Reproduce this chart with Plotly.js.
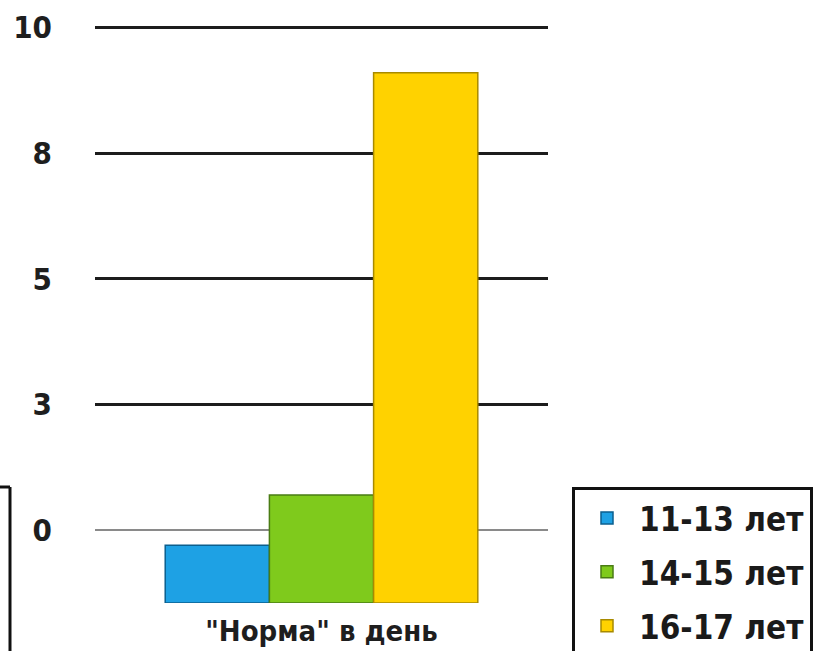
<!DOCTYPE html>
<html>
<head>
<meta charset="utf-8">
<script src="https://cdn.plot.ly/plotly-3.0.1.min.js"></script>
<style>html,body{margin:0;padding:0;background:#fff;}#chart{width:819px;height:651px;}</style>
</head>
<body>
<div id="chart"></div>
<script>
const categories = ['"Норма" в день'];
const seriesNames = ['11-13 лет', '14-15 лет', '16-17 лет'];
const values11_13 = [-0.3];
const values14_15 = [0.7];
const values16_17 = [9.1];
const floorValue = -1.45;
const tickValues = [0, 2.5, 5, 7.5, 10];
const tickLabels = ['0', '3', '5', '8', '10'];

const FONT = '"DejaVu Sans Condensed", "Liberation Sans Narrow", sans-serif';
const fills = ['#1ea1e4', '#7fca1c', '#ffd200'];
const edges = ['#0b5f8e', '#4a7c14', '#a88a00'];
const seriesValues = [values11_13, values14_15, values16_17];

const traces = seriesValues.map((vals, i) => ({
  type: 'bar',
  name: seriesNames[i],
  legendgroup: 'g' + i,
  x: categories,
  y: vals.map(v => v - floorValue),
  base: vals.map(() => floorValue),
  marker: { color: fills[i], line: { color: edges[i], width: 1.5 } },
  hoverinfo: 'skip'
}));

const W = 819, H = 651;
const L = 95, R = 271, T = 25, B = 48;
const plotW = W - L - R, plotH = H - T - B;
const pxToPaperX = px => (px - L) / plotW;
const pxToPaperY = py => (H - B - py) / plotH;

const layout = {
  width: W, height: H,
  margin: { l: L, r: R, t: T, b: B, pad: 0, autoexpand: false },
  paper_bgcolor: '#ffffff',
  plot_bgcolor: '#ffffff',
  barmode: 'group',
  bargap: 0.31,
  bargroupgap: 0,
  showlegend: true,
  font: { family: FONT, color: '#1a1a1a' },
  xaxis: {
    type: 'category',
    range: [-0.5, 0.5],
    automargin: false,
    showgrid: false, zeroline: false, showline: false,
    ticks: '',
    tickfont: { family: FONT, size: 29, color: '#1e1e1e', weight: 'bold' },
    ticklabelstandoff: 8
  },
  yaxis: {
    range: [floorValue, 10.05],
    automargin: false,
    tickmode: 'array',
    tickvals: tickValues,
    ticktext: tickLabels,
    tickfont: { family: FONT, size: 31, color: '#1e1e1e', weight: 'bold' },
    showgrid: true, gridcolor: '#1c1c1c', gridwidth: 3,
    zeroline: true, zerolinecolor: '#8a8a8a', zerolinewidth: 1.5,
    showline: false, ticks: '',
    ticklabelstandoff: 42
  },
  legend: {
    x: pxToPaperX(572), xanchor: 'left',
    y: pxToPaperY(487), yanchor: 'top',
    bgcolor: '#ffffff',
    bordercolor: '#111', borderwidth: 3,
    font: { family: FONT, size: 33, color: '#1a1a1a', weight: 'bold' },
    itemwidth: 54,
    tracegroupgap: 8,
    traceorder: 'grouped'
  },
  shapes: [
    { type: 'line', xref: 'paper', yref: 'paper',
      x0: pxToPaperX(10), x1: pxToPaperX(10), y0: pxToPaperY(487), y1: pxToPaperY(660),
      line: { color: '#111', width: 3 } },
    { type: 'line', xref: 'paper', yref: 'paper',
      x0: pxToPaperX(-5), x1: pxToPaperX(10), y0: pxToPaperY(487), y1: pxToPaperY(487),
      line: { color: '#111', width: 3 } }
  ]
};

Plotly.newPlot('chart', traces, layout, { displayModeBar: false, staticPlot: true });
</script>
</body>
</html>
